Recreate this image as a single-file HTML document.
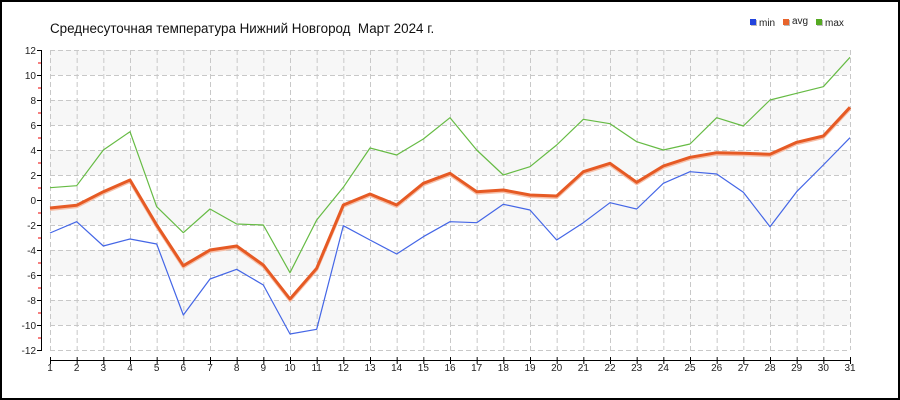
<!DOCTYPE html>
<html><head><meta charset="utf-8"><style>
html,body{margin:0;padding:0;background:#fff;}
svg{display:block;font-family:"Liberation Sans","DejaVu Sans",sans-serif;}
</style></head><body>
<svg width="900" height="400" viewBox="0 0 900 400" xmlns="http://www.w3.org/2000/svg">
<rect x="1" y="1" width="898" height="398" fill="#fff" stroke="#000" stroke-width="2"/>
<text x="50" y="33" font-size="13.4" fill="#111">Среднесуточная температура Нижний Новгород&#160; Март 2024 г.</text>
<!-- legend -->
<rect x="751" y="20" width="6" height="6" fill="#bbb"/><rect x="750" y="19" width="6" height="6" fill="#2244dd"/>
<text x="759" y="26" font-size="10" fill="#222">min</text>
<rect x="784" y="20" width="6" height="6" fill="#bbb"/><rect x="783" y="19" width="6" height="6" fill="#e8642c"/>
<text x="792" y="24" font-size="10" fill="#222">avg</text>
<rect x="817" y="20" width="6" height="6" fill="#bbb"/><rect x="816" y="19" width="6" height="6" fill="#55aa22"/>
<text x="825" y="26" font-size="10" fill="#222">max</text>
<!-- bands -->
<g fill="#f7f7f7">
<rect x="50" y="50" width="800" height="25"/>
<rect x="50" y="100" width="800" height="25"/>
<rect x="50" y="150" width="800" height="25"/>
<rect x="50" y="200" width="800" height="25"/>
<rect x="50" y="250" width="800" height="25"/>
<rect x="50" y="300" width="800" height="25"/>
</g>
<!-- grid -->
<g stroke="#c8c8c8" stroke-width="1" stroke-dasharray="5,3" fill="none">
<path d="M50 50.5H850M50 75.5H850M50 100.5H850M50 125.5H850M50 150.5H850M50 175.5H850M50 200.5H850M50 225.5H850M50 250.5H850M50 275.5H850M50 300.5H850M50 325.5H850M50 350.5H850"/>
<path d="M50.5 50V350M77.17 50V350M103.83 50V350M130.5 50V350M157.17 50V350M183.83 50V350M210.5 50V350M237.17 50V350M263.83 50V350M290.5 50V350M317.17 50V350M343.83 50V350M370.5 50V350M397.17 50V350M423.83 50V350M450.5 50V350M477.17 50V350M503.83 50V350M530.5 50V350M557.17 50V350M583.83 50V350M610.5 50V350M637.17 50V350M663.83 50V350M690.5 50V350M717.17 50V350M743.83 50V350M770.5 50V350M797.17 50V350M823.83 50V350M850.5 50V350"/>
</g>
<!-- y axis -->
<g stroke="#000" stroke-width="1">
<path d="M41.5 50V351"/>
<path d="M37 50.5H42M37 75.5H42M37 100.5H42M37 125.5H42M37 150.5H42M37 175.5H42M37 200.5H42M37 225.5H42M37 250.5H42M37 275.5H42M37 300.5H42M37 325.5H42M37 350.5H42"/>
</g>
<g stroke="#e00" stroke-width="1">
<path d="M38 63H41M38 88H41M38 113H41M38 138H41M38 163H41M38 188H41M38 213H41M38 238H41M38 263H41M38 288H41M38 313H41M38 338H41"/>
</g>
<g font-size="10" fill="#222" text-anchor="end">
<text x="36" y="54">12</text><text x="36" y="79">10</text><text x="36" y="104">8</text><text x="36" y="129">6</text>
<text x="36" y="154">4</text><text x="36" y="179">2</text><text x="36" y="204">0</text><text x="36" y="229">-2</text>
<text x="36" y="254">-4</text><text x="36" y="279">-6</text><text x="36" y="304">-8</text><text x="36" y="329">-10</text><text x="36" y="354">-12</text>
</g>
<!-- x axis -->
<g stroke="#000" stroke-width="1">
<path d="M50 360.5H851"/>
<path d="M50.5 357V364M77.17 357V364M103.83 357V364M130.5 357V364M157.17 357V364M183.83 357V364M210.5 357V364M237.17 357V364M263.83 357V364M290.5 357V364M317.17 357V364M343.83 357V364M370.5 357V364M397.17 357V364M423.83 357V364M450.5 357V364M477.17 357V364M503.83 357V364M530.5 357V364M557.17 357V364M583.83 357V364M610.5 357V364M637.17 357V364M663.83 357V364M690.5 357V364M717.17 357V364M743.83 357V364M770.5 357V364M797.17 357V364M823.83 357V364M850.5 357V364"/>
</g>
<g font-size="10" fill="#222" text-anchor="middle">
<text x="50" y="371">1</text><text x="76.67" y="371">2</text><text x="103.33" y="371">3</text><text x="130" y="371">4</text><text x="156.67" y="371">5</text><text x="183.33" y="371">6</text><text x="210" y="371">7</text><text x="236.67" y="371">8</text><text x="263.33" y="371">9</text><text x="290" y="371">10</text><text x="316.67" y="371">11</text><text x="343.33" y="371">12</text><text x="370" y="371">13</text><text x="396.67" y="371">14</text><text x="423.33" y="371">15</text><text x="450" y="371">16</text><text x="476.67" y="371">17</text><text x="503.33" y="371">18</text><text x="530" y="371">19</text><text x="556.67" y="371">20</text><text x="583.33" y="371">21</text><text x="610" y="371">22</text><text x="636.67" y="371">23</text><text x="663.33" y="371">24</text><text x="690" y="371">25</text><text x="716.67" y="371">26</text><text x="743.33" y="371">27</text><text x="770" y="371">28</text><text x="796.67" y="371">29</text><text x="823.33" y="371">30</text><text x="850" y="371">31</text>
</g>
<!-- series -->
<polyline fill="none" stroke="#66bb44" stroke-width="1.2" stroke-linejoin="round" points="50,187.7 76.67,185.7 103.33,150 130,131.7 156.67,206.7 183.33,232.7 210,209 236.67,224 263.33,225 290,272.7 316.67,220 343.33,187.3 370,148 396.67,155 423.33,139 450,117.7 476.67,150 503.33,175 530,166.7 556.67,145 583.33,119.3 610,123.7 636.67,141.7 663.33,150 690,144 716.67,117.7 743.33,126 770,100 796.67,93.3 823.33,86.7 850,57.3"/>
<polyline fill="none" stroke="#4466e6" stroke-width="1.2" stroke-linejoin="round" points="50,233 76.67,221.7 103.33,246 130,239 156.67,244 183.33,315 210,279 236.67,269.3 263.33,285 290,334 316.67,329.3 343.33,225.7 370,240 396.67,254 423.33,236.7 450,221.7 476.67,222.7 503.33,204.3 530,210 556.67,240 583.33,222.7 610,202.7 636.67,209 663.33,183.3 690,171.7 716.67,174 743.33,192.3 770,226.7 796.67,191.7 823.33,165 850,137.7"/>
<polyline fill="none" stroke="#f6bfa8" stroke-width="3" stroke-linejoin="round" transform="translate(0,1.5)" points="50,208 76.67,205.3 103.33,191.7 130,180 156.67,225 183.33,265.7 210,250 236.67,246 263.33,265 290,299 316.67,268.3 343.33,205 370,194 396.67,205 423.33,183.3 450,173.3 476.67,191.7 503.33,190 530,195 556.67,196 583.33,171.7 610,163.3 636.67,182.3 663.33,166 690,157.3 716.67,152.7 743.33,153.3 770,154.3 796.67,142.3 823.33,136 850,107.3"/>
<polyline fill="none" stroke="#e65a24" stroke-width="3" stroke-linejoin="round" points="50,208 76.67,205.3 103.33,191.7 130,180 156.67,225 183.33,265.7 210,250 236.67,246 263.33,265 290,299 316.67,268.3 343.33,205 370,194 396.67,205 423.33,183.3 450,173.3 476.67,191.7 503.33,190 530,195 556.67,196 583.33,171.7 610,163.3 636.67,182.3 663.33,166 690,157.3 716.67,152.7 743.33,153.3 770,154.3 796.67,142.3 823.33,136 850,107.3"/>
</svg>
</body></html>
